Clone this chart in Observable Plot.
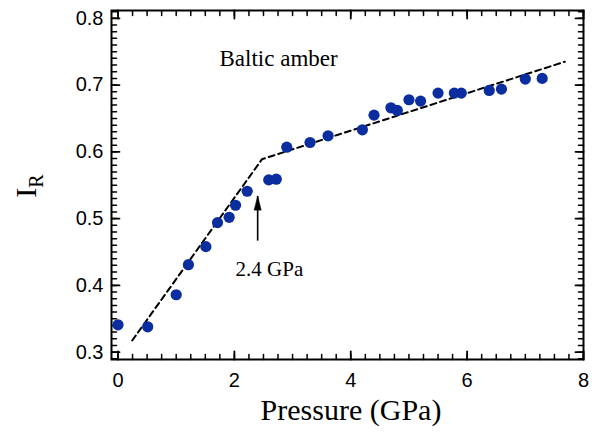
<!DOCTYPE html>
<html>
<head>
<meta charset="utf-8">
<script src="https://cdn.jsdelivr.net/npm/d3@7"></script>
<script src="https://cdn.jsdelivr.net/npm/@observablehq/plot@0.6"></script>
<style>
  html, body { margin: 0; padding: 0; background: #fff; }
  #chart { width: 598px; height: 435px; }
</style>
</head>
<body>
<div id="chart"></div>
<script>
// Measured data (pressure in GPa, I_R)
const pressure = [0, 0.51, 1.0, 1.21, 1.51, 1.71, 1.91, 2.02, 2.22, 2.59, 2.72, 2.9, 3.3, 3.61, 4.2, 4.4, 4.69, 4.8, 5.0, 5.2, 5.5, 5.78, 5.9, 6.38, 6.59, 7.0, 7.29];
const intensity = [0.341, 0.338, 0.386, 0.431, 0.458, 0.494, 0.502, 0.520, 0.541, 0.558, 0.559, 0.607, 0.614, 0.624, 0.633, 0.655, 0.666, 0.662, 0.678, 0.676, 0.688, 0.688, 0.688, 0.692, 0.694, 0.709, 0.710];

// Two-segment linear fit (dashed)
const fitPressure = [0.244, 2.475, 7.68];
const fitIntensity = [0.3175, 0.589, 0.735];

// Annotation
const arrowPressure = [2.4];
const arrowFrom = [0.467];
const arrowTo = [0.534];
const noteText = ["Baltic amber", "2.4 GPa"];
const noteX = [1.744, 2.02];
const noteY = [0.7287, 0.4147];
const noteSize = [23, 21];

// Axes
const xTicks = [0, 2, 4, 6, 8];
const yTicks = [0.3, 0.4, 0.5, 0.6, 0.7, 0.8];
const xMinor = d3.range(0, 8.001, 0.25);
const yMinor = d3.range(0.29, 0.8101, 0.01).map(v => +v.toFixed(2));
const xLabel = "Pressure (GPa)";
const yLabel = ["I", "R"];

const points = pressure.map((p, i) => ({p, v: intensity[i]}));
const fit = fitPressure.map((p, i) => ({p, v: fitIntensity[i]}));
const arrowData = arrowPressure.map((p, i) => ({p, y1: arrowFrom[i], y2: arrowTo[i]}));
const notes = noteText.map((t, i) => ({t, x: noteX[i], y: noteY[i], s: noteSize[i]}));

const sans = "Liberation Sans";
const serif = "Liberation Serif";

const tickShape = {draw(context, l) { context.moveTo(0, 0); context.lineTo(0, -l); }};
const headShape = {draw(context, l) { context.moveTo(-3.5, 0); context.lineTo(0, -l); context.lineTo(3.5, 0); context.closePath(); }};
const rotation = {bottom: 0, top: 180, left: 90, right: -90};
function inward(values, side, size, sw) {
  const horiz = side === "bottom" || side === "top";
  return Plot.vector(values, {
    [horiz ? "x" : "y"]: d => d,
    frameAnchor: side,
    length: size,
    rotate: rotation[side],
    anchor: "start",
    shape: tickShape,
    stroke: "#000",
    strokeWidth: sw
  });
}

const chart = Plot.plot({
  width: 598,
  height: 435,
  marginLeft: 111,
  marginRight: 15,
  marginTop: 10,
  marginBottom: 76,
  style: {background: "#fff", color: "#000", overflow: "visible"},
  x: {domain: [-0.112, 8]},
  y: {domain: [0.289, 0.8117]},
  marks: [
    inward(xMinor, "bottom", 5, 1.5),
    inward(xMinor, "top", 5, 1.5),
    inward(yMinor, "left", 5, 1.5),
    inward(yMinor, "right", 5, 1.5),
    inward(xTicks, "bottom", 8, 1.8),
    inward(xTicks, "top", 8, 1.8),
    inward(yTicks, "left", 8, 1.8),
    inward(yTicks, "right", 8, 1.8),
    Plot.axisX(xTicks, {anchor: "bottom", tickSize: 0, tickPadding: 13, label: null, tickFormat: d3.format("d"), fontFamily: sans, fontSize: 20}),
    Plot.axisY(yTicks, {anchor: "left", tickSize: 0, tickPadding: 8, label: null, tickFormat: d3.format(".1f"), fontFamily: sans, fontSize: 20}),
    Plot.frame({stroke: "#000", strokeWidth: 2}),
    Plot.line(fit, {x: "p", y: "v", stroke: "#000", strokeWidth: 2, strokeDasharray: "6,4"}),
    Plot.dot(points, {x: "p", y: "v", r: 5.6, fill: "#0a2d9f"}),
    Plot.link(arrowData, {x1: "p", x2: "p", y1: "y1", y2: "y2", stroke: "#000", strokeWidth: 1.6}),
    Plot.vector(arrowData, {x: "p", y: "y2", length: 14, rotate: 0, anchor: "end", shape: headShape, fill: "#000", stroke: "#000", strokeWidth: 0.5}),
    Plot.text(notes, {x: "x", y: "y", text: "t", fontSize: "s", textAnchor: "start", lineAnchor: "bottom", fontFamily: serif, fill: "#000"})
  ]
});

document.getElementById("chart").appendChild(chart);

const svg = d3.select(chart);
svg.append("text")
  .attr("x", 351).attr("y", 420)
  .attr("text-anchor", "middle")
  .attr("font-family", serif)
  .attr("font-size", 30)
  .attr("fill", "#000")
  .text(xLabel);
const yl = svg.append("text")
  .attr("transform", "translate(36,186) rotate(-90)")
  .attr("text-anchor", "middle")
  .attr("font-family", serif)
  .attr("font-size", 30)
  .attr("fill", "#000");
yl.append("tspan").text(yLabel[0]);
yl.append("tspan").attr("font-size", 20).attr("dy", 7).text(yLabel[1]);
</script>
</body>
</html>
